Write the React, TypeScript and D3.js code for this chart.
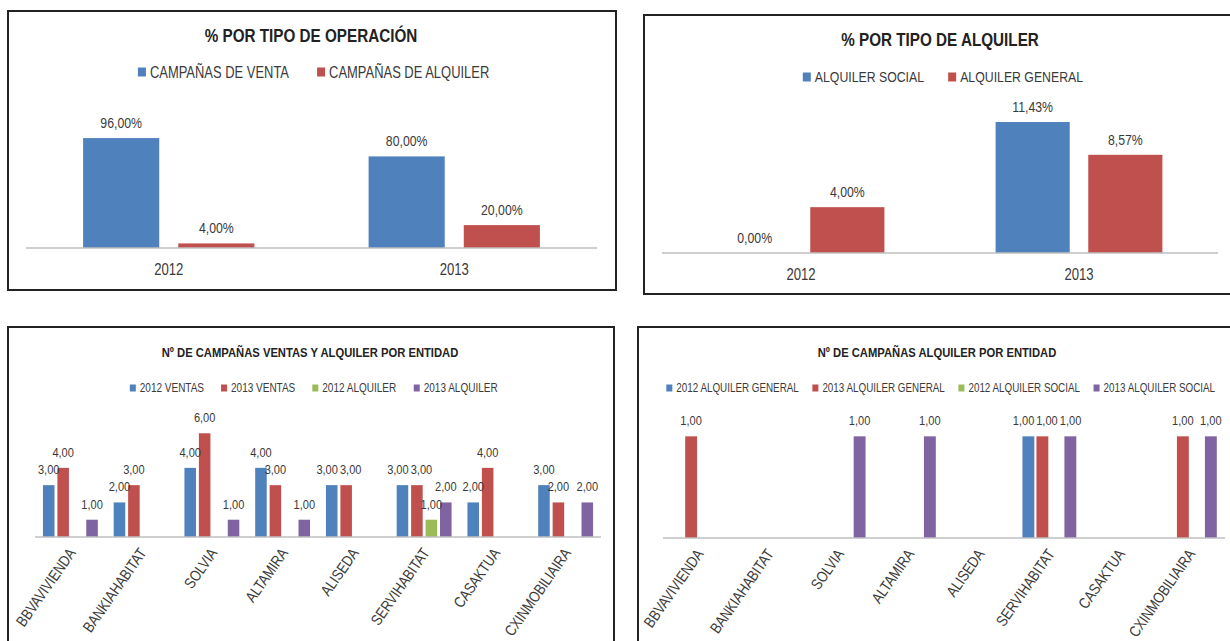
import React from 'react';
import * as d3 from 'd3';

// ---------------- DATA ----------------
const YEARS = ['2012', '2013'];

const OP_SERIES = ['CAMPAÑAS DE VENTA', 'CAMPAÑAS DE ALQUILER'];
const OP_VENTA = [96, 80];
const OP_ALQUILER = [4, 20];

const ALQ_SERIES = ['ALQUILER SOCIAL', 'ALQUILER GENERAL'];
const ALQ_SOCIAL = [0, 11.43];
const ALQ_GENERAL = [4, 8.57];

const ENTIDADES = ['BBVAVIVIENDA', 'BANKIAHABITAT', 'SOLVIA', 'ALTAMIRA', 'ALISEDA', 'SERVIHABITAT', 'CASAKTUA', 'CXINMOBILIAIRA'];

const ENT_SERIES = ['2012 VENTAS', '2013 VENTAS', '2012 ALQUILER', '2013 ALQUILER'];
const VENTAS_2012 = [3, 2, 4, 4, 3, 3, 2, 3];
const VENTAS_2013 = [4, 3, 6, 3, 3, 3, 4, 2];
const ALQUILER_2012 = [null, null, null, null, null, 1, null, null];
const ALQUILER_2013 = [1, null, 1, 1, null, 2, null, 2];

const ALQ_ENT_SERIES = ['2012 ALQUILER GENERAL', '2013 ALQUILER GENERAL', '2012 ALQUILER SOCIAL', '2013 ALQUILER SOCIAL'];
const GENERAL_2012 = [null, null, null, null, null, 1, null, null];
const GENERAL_2013 = [1, null, null, null, null, 1, null, 1];
const SOCIAL_2012 = [null, null, null, null, null, null, null, null];
const SOCIAL_2013 = [null, null, 1, 1, null, 1, null, 1];

// ---------------- STYLE ----------------
const COLORS = ['#4F81BD', '#C0504D', '#9BBB59', '#8064A2'];
const FONT = '"Liberation Sans", Arial, sans-serif';
const NARROW = 0.82; // horizontal compression -> narrow face
const TEXT = '#3a3a3a';

let _canvas: HTMLCanvasElement | null = null;
function measure(text: string, size: number, weight = 'normal') {
  if (!_canvas) _canvas = document.createElement('canvas');
  const ctx = _canvas.getContext('2d')!;
  ctx.font = `${weight} ${size}px ${FONT}`;
  return ctx.measureText(text).width * NARROW;
}

const fmtPct = (v: number) => v.toFixed(2).replace('.', ',') + '%';
const fmtNum = (v: number) => v.toFixed(2).replace('.', ',');

function T(props: {
  x: number;
  y: number;
  size: number;
  anchor?: string;
  weight?: string;
  fill?: string;
  rotate?: number;
  children: React.ReactNode;
}) {
  const { x, y, size, anchor = 'start', weight = 'normal', fill = TEXT, rotate = 0, children } = props;
  return (
    <text
      transform={`translate(${x},${y}) rotate(${rotate}) scale(${NARROW},1)`}
      textAnchor={anchor}
      fontFamily={FONT}
      fontWeight={weight}
      fontSize={size}
      fill={fill}
    >
      {children}
    </text>
  );
}

type PanelProps = {
  box: { x: number; y: number; w: number; h: number };
  title: string;
  titleX: number;
  titleY: number;
  titleSize: number;
  legendNames: string[];
  legendX: number;
  legendY: number;
  legendSize: number;
  sw: number;
  sh: number;
  itemGap: number;
  categories: string[];
  values: (number | null)[][];
  yMax: number;
  x0: number;
  x1: number;
  baseline: number;
  top: number;
  padInner: number;
  padOuter: number;
  labelSize: number;
  labelLift: number;
  fmt: (v: number) => string;
  catSize: number;
  rotated: boolean;
};

function Panel(p: PanelProps) {
  const xCat = d3.scaleBand<string>().domain(p.categories).range([p.x0, p.x1]).padding(0);
  const xSer = d3
    .scaleBand<number>()
    .domain(p.values.map((_, i) => i))
    .range([0, xCat.bandwidth()])
    .paddingInner(p.padInner)
    .paddingOuter(p.padOuter);
  const y = d3.scaleLinear().domain([0, p.yMax]).range([p.baseline, p.top]);
  const bw = xSer.bandwidth();

  // legend layout
  const widths = p.legendNames.map((n) => measure(n, p.legendSize));
  const itemWidths = widths.map((w) => p.sw + 4 + w);
  const total = d3.sum(itemWidths) + p.itemGap * (itemWidths.length - 1);
  let lx = p.legendX - total / 2;
  const legendItems = p.legendNames.map((n, i) => {
    const item = { name: n, x: lx, color: COLORS[i] };
    lx += itemWidths[i] + p.itemGap;
    return item;
  });

  // bars + labels
  type Lab = { key: string; x: number; y: number; text: string; w: number; ci: number };
  const bars: { key: string; x: number; y: number; h: number; color: string }[] = [];
  const labels: Lab[] = [];
  p.values.forEach((ser, si) =>
    ser.forEach((v, ci) => {
      if (v === null || v === undefined) return;
      const bx = (xCat(p.categories[ci]) as number) + (xSer(si) as number);
      const top = y(v);
      if (v > 0) bars.push({ key: `${si}-${ci}`, x: bx, y: top, h: p.baseline - top, color: COLORS[si] });
      const text = p.fmt(v);
      labels.push({ key: `l${si}-${ci}`, x: bx + bw / 2, y: top - p.labelLift, text, w: measure(text, p.labelSize), ci });
    })
  );
  // separate labels of the same category that sit side by side at equal height
  p.categories.forEach((_, ci) => {
    const group = labels.filter((l) => l.ci === ci).sort((a, b) => a.x - b.x);
    for (let i = 0; i < group.length - 1; i++) {
      const a = group[i];
      const b = group[i + 1];
      const need = (a.w + b.w) / 2 + 2;
      const dx = b.x - a.x;
      if (Math.abs(a.y - b.y) < p.labelSize * 0.8 && dx < need) {
        const s = (need - dx) / 2;
        a.x -= s;
        b.x += s;
      }
    }
  });

  const capL = p.legendSize * 0.36;

  return (
    <g>
      <rect x={p.box.x} y={p.box.y} width={p.box.w} height={p.box.h} fill="#fff" stroke="#222" strokeWidth={2} />
      <T x={p.titleX} y={p.titleY + p.titleSize * 0.36} size={p.titleSize} anchor="middle" weight="bold" fill="#222">
        {p.title}
      </T>
      {legendItems.map((it) => (
        <g key={it.name}>
          <rect x={it.x} y={p.legendY - p.sh / 2} width={p.sw} height={p.sh} fill={it.color} />
          <T x={it.x + p.sw + 4} y={p.legendY + capL} size={p.legendSize}>
            {it.name}
          </T>
        </g>
      ))}
      {bars.map((b) => (
        <rect key={b.key} x={b.x} y={b.y} width={bw} height={b.h} fill={b.color} />
      ))}
      {labels.map((l) => (
        <T key={l.key} x={l.x} y={l.y} size={p.labelSize} anchor="middle">
          {l.text}
        </T>
      ))}
      <line x1={p.x0} x2={p.x1} y1={p.baseline} y2={p.baseline} stroke="#BFBFBF" strokeWidth={1.5} />
      {p.categories.map((c) => {
        const cx = (xCat(c) as number) + xCat.bandwidth() / 2;
        if (p.rotated) {
          return (
            <T key={c} x={cx + 6} y={p.baseline + 16} size={p.catSize} anchor="end" rotate={-55}>
              {c}
            </T>
          );
        }
        return (
          <T key={c} x={cx} y={p.baseline + 27} size={p.catSize} anchor="middle">
            {c}
          </T>
        );
      })}
    </g>
  );
}

export default function App() {
  return (
    <svg width={1230} height={641} style={{ position: 'absolute', left: 0, top: 0, background: '#fff' }}>
      <rect x={0} y={0} width={1230} height={641} fill="#fff" />
      <Panel
        box={{ x: 8, y: 11, w: 608, h: 279 }}
        title="% POR TIPO DE OPERACIÓN"
        titleX={311}
        titleY={35}
        titleSize={18.6}
        legendNames={OP_SERIES}
        legendX={314}
        legendY={72}
        legendSize={15.8}
        sw={8}
        sh={9}
        itemGap={28}
        categories={YEARS}
        values={[OP_VENTA, OP_ALQUILER]}
        yMax={100}
        x0={26}
        x1={597}
        baseline={248}
        top={133.5}
        padInner={0.2}
        padOuter={0.6}
        labelSize={15}
        labelLift={10}
        fmt={fmtPct}
        catSize={16}
        rotated={false}
      />
      <Panel
        box={{ x: 644, y: 15, w: 600, h: 279 }}
        title="% POR TIPO DE ALQUILER"
        titleX={940}
        titleY={39}
        titleSize={18.6}
        legendNames={ALQ_SERIES}
        legendX={943}
        legendY={77}
        legendSize={15}
        sw={8}
        sh={9}
        itemGap={24}
        categories={YEARS}
        values={[ALQ_SOCIAL, ALQ_GENERAL]}
        yMax={12}
        x0={662}
        x1={1218}
        baseline={253}
        top={115.5}
        padInner={0.2}
        padOuter={0.6}
        labelSize={15}
        labelLift={10}
        fmt={fmtPct}
        catSize={16}
        rotated={false}
      />
      <Panel
        box={{ x: 8, y: 327, w: 606, h: 330 }}
        title="Nº DE CAMPAÑAS VENTAS Y ALQUILER POR ENTIDAD"
        titleX={310}
        titleY={352}
        titleSize={13.7}
        legendNames={ENT_SERIES}
        legendX={314}
        legendY={388}
        legendSize={12.2}
        sw={6}
        sh={7}
        itemGap={17}
        categories={ENTIDADES}
        values={[VENTAS_2012, VENTAS_2013, ALQUILER_2012, ALQUILER_2013]}
        yMax={7}
        x0={35}
        x1={601}
        baseline={537}
        top={416}
        padInner={0.2}
        padOuter={0.55}
        labelSize={13.5}
        labelLift={11}
        fmt={fmtNum}
        catSize={15.5}
        rotated={true}
      />
      <Panel
        box={{ x: 638, y: 327, w: 610, h: 330 }}
        title="Nº DE CAMPAÑAS  ALQUILER POR ENTIDAD"
        titleX={937}
        titleY={352}
        titleSize={13.7}
        legendNames={ALQ_ENT_SERIES}
        legendX={941}
        legendY={388}
        legendSize={12}
        sw={6}
        sh={7}
        itemGap={13}
        categories={ENTIDADES}
        values={[GENERAL_2012, GENERAL_2013, SOCIAL_2012, SOCIAL_2013]}
        yMax={1.2}
        x0={663}
        x1={1225}
        baseline={538}
        top={416}
        padInner={0.15}
        padOuter={0.585}
        labelSize={13.5}
        labelLift={11}
        fmt={fmtNum}
        catSize={15.5}
        rotated={true}
      />
    </svg>
  );
}
